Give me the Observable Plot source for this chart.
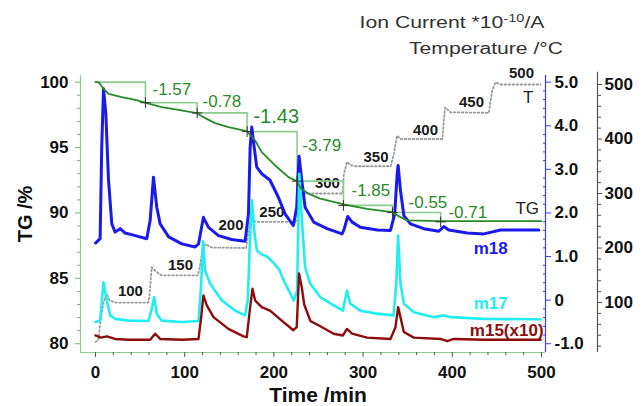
<!DOCTYPE html>
<html><head><meta charset="utf-8">
<script src="https://cdn.jsdelivr.net/npm/d3@7"></script>
<script src="https://cdn.jsdelivr.net/npm/@observablehq/plot@0.6"></script>
<style>body{margin:0;background:#fff;} #chart{width:642px;height:406px;}</style>
</head><body><div id="chart"></div>
<script>
// ---- TG curve (%)
const tgTime  = [0, 3.4, 9, 14.6, 29.5, 44.5, 57.5, 74.3, 93, 113.5, 121, 134, 149, 169.6, 179, 186.4, 201.4, 216.4, 225.6, 230, 238.7, 252, 278.3, 304.5, 332.5, 341.9, 349.3, 386.8, 500];
const tgValue = [100.0, 100.0, 99.5, 99.11, 98.85, 98.65, 98.39, 98.09, 97.89, 97.63, 97.33, 96.87, 96.56, 96.25, 95.54, 94.65, 93.63, 92.74, 92.43, 91.9, 91.47, 91.09, 90.65, 90.32, 90.06, 89.68, 89.43, 89.37, 89.37];

// ---- TG step brackets
const stepTime   = [0, 56, 114, 170, 226, 278, 333, 387];
const stepTG     = [100, 98.43, 97.65, 96.22, 92.43, 90.58, 90.03, 89.32];
const stepLabels = ["-1.57", "-0.78", "-1.43", "-3.79", "-1.85", "-0.55", "-0.71"];
const stepLabelTime = [63.9, 120, 177.1, 232, 287, 351, 395.7];
const stepLabelTG   = [99.43, 98.52, 97.37, 95.15, 91.71, 90.80, 90.03];

// ---- Ion currents (*10^-10 A)
const m18Time  = [0, 5.2, 7, 9, 11.6, 14.6, 18.3, 22, 27.7, 33.3, 44.5, 57.5, 61.3, 65, 68.7, 72.5, 82, 96.8, 111.7, 115.5, 121, 126.7, 137.9, 152.8, 167.7, 171.5, 173.4, 175.2, 177.9, 180.8, 186.4, 195.7, 205, 212.5, 221.8, 225.6, 228.2, 231.7, 235, 244.6, 259.6, 276.4, 278.3, 282.8, 287.7, 297, 315.8, 330.7, 335.5, 338.2, 339.3, 341.9, 345.7, 353.1, 368, 384.9, 390.5, 396.1, 416.7, 435.4, 454, 472.7, 497];
const m18Value = [1.31, 1.41, 3.51, 4.85, 4.28, 2.75, 1.75, 1.56, 1.64, 1.54, 1.48, 1.41, 1.83, 2.82, 2.13, 1.75, 1.45, 1.29, 1.22, 1.29, 1.90, 1.67, 1.48, 1.39, 1.35, 1.98, 3.51, 3.97, 3.51, 3.05, 2.90, 2.75, 2.36, 1.98, 1.71, 2.13, 3.30, 2.67, 2.13, 1.79, 1.64, 1.52, 1.60, 1.92, 1.79, 1.67, 1.61, 1.60, 1.98, 2.90, 3.09, 2.52, 1.94, 1.75, 1.64, 1.58, 1.69, 1.61, 1.54, 1.52, 1.61, 1.61, 1.61];

const m17Time  = [0, 5.2, 9, 12.7, 16.5, 22, 37, 59.4, 63.1, 65.8, 68.7, 74.3, 96.8, 115.5, 118.5, 120.5, 122.9, 128.5, 141.6, 156.6, 167.8, 170.7, 173.4, 175.5, 178.4, 181, 186, 192.3, 199.9, 206, 211, 222.3, 226, 228.5, 231.5, 235, 240.6, 252, 267, 277.4, 281.9, 285.6, 296.8, 315.5, 334.2, 337.2, 339.3, 341.9, 345.7, 356.9, 379.3, 390.5, 398, 435.4, 499];
const m17Value = [-0.50, -0.47, 0.41, -0.01, -0.35, -0.43, -0.47, -0.48, -0.20, 0.07, -0.31, -0.47, -0.50, -0.48, 0.38, 1.35, 0.68, 0.38, -0.01, -0.24, -0.35, -0.01, 1.5, 2.29, 1.5, 1.14, 1.05, 1.0, 0.85, 0.7, 0.45, -0.01, 0.22, 2.9, 1.8, 0.76, 0.38, 0.07, -0.12, -0.24, 0.22, -0.08, -0.24, -0.31, -0.35, 0.38, 1.48, 0.38, -0.08, -0.28, -0.39, -0.35, -0.39, -0.43, -0.44];

const m15Time  = [0, 6, 12.7, 22, 37, 61.3, 66.9, 72.5, 96.8, 115.5, 118.5, 121, 124.8, 132.3, 149, 165.9, 169.6, 173.4, 176, 179, 186.4, 195.7, 208.8, 221.8, 225.6, 228.2, 231.2, 234, 241, 252, 267, 277.4, 281.9, 287.7, 304.5, 330.7, 336.3, 339.3, 341.9, 345.7, 356.9, 386.8, 394.3, 401.7, 435.4, 499];
const m15Value = [-0.81, -0.86, -0.83, -0.89, -0.91, -0.91, -0.77, -0.89, -0.91, -0.89, -0.39, 0.11, -0.12, -0.39, -0.66, -0.83, -0.85, -0.16, 0.26, -0.01, -0.16, -0.24, -0.47, -0.69, -0.62, 0.61, 0.30, -0.10, -0.48, -0.60, -0.77, -0.81, -0.66, -0.77, -0.86, -0.89, -0.62, -0.16, -0.39, -0.73, -0.86, -0.89, -0.94, -0.89, -0.91, -0.91];

// ---- Temperature (°C)
const tempTime  = [0, 3, 6, 9, 12.5, 16, 22, 59, 60.5, 63, 67, 74, 115, 117, 120, 123, 130, 169, 171, 174, 180, 226, 227, 229, 277, 278.5, 282, 286, 292, 331, 334.5, 338, 342, 389, 390.5, 392, 398, 441, 444.7, 448.4, 454, 499];
const tempValue = [28, 30, 70, 100, 116, 104, 100, 100, 110, 165, 158, 150, 150, 165, 198, 207, 201, 200, 225, 252, 248, 248, 275, 300, 300, 336, 358, 352, 350, 350, 373, 406, 400, 400, 435, 458, 449, 448, 489, 504, 500, 500];
const tempLabels     = ["100", "150", "200", "250", "300", "350", "400", "450", "500"];
const tempLabelTime  = [39.2, 95.3, 151.9, 197.7, 260, 314.5, 370, 421.5, 477.6];
const tempLabelValue = [120, 168, 242, 266, 319, 367, 416, 468, 521];

// ---- axis ticks
const tgTicks = [80, 85, 90, 95, 100];
const timeTicks = [0, 100, 200, 300, 400, 500];
const ionTicks = [5, 4, 3, 2, 1, 0, -1];
const ionTickLabels = ["5.0", "4.0", "3.0", "2.0", "1.0", "0", "-1.0"];
const tempTicks = [100, 200, 300, 400, 500];

// ---- scale conversions onto the shared TG axis
const ionToTG = I => 80 + (I + 1) * 20 / 6;
const tempToTG = T => 83.15 + (T - 100) * 0.04168;

const X0 = -16.8, X1 = 504.5, Y0 = 79.33, Y1 = 100.51;

const tg = tgTime.map((t, i) => ({t, v: tgValue[i]}));
const steps = stepTime.map((t, i) => ({t, v: stepTG[i]}));
const stepText = stepLabels.map((s, i) => ({t: stepLabelTime[i], v: stepLabelTG[i], s, big: s === "-1.43"}));
const m18 = m18Time.map((t, i) => ({t, v: ionToTG(m18Value[i])}));
const m17 = m17Time.map((t, i) => ({t, v: ionToTG(m17Value[i])}));
const m15 = m15Time.map((t, i) => ({t, v: ionToTG(m15Value[i])}));
const temp = tempTime.map((t, i) => ({t, v: tempToTG(tempValue[i])}));
const tempText = tempLabels.map((s, i) => ({t: tempLabelTime[i], v: tempToTG(tempLabelValue[i]), s}));

const range = (a, b, s) => d3.range(a, b + 1e-9, s);
const minorTG = range(80, 100, 1).filter(d => d % 5 !== 0);
const minorTime = range(0, 500, 20).filter(d => d % 100 !== 0);
const minorIon = range(-1, 5, 0.2).filter(d => Math.abs(d - Math.round(d)) > 1e-6).map(ionToTG);
const minorTemp = range(20, 500, 20).filter(d => d % 100 !== 0).map(tempToTG);

const ionFmt = d => ionTickLabels[ionTicks.findIndex(v => Math.abs(ionToTG(v) - d) < 1e-6)];
const tempFmt = d => String(tempTicks.find(v => Math.abs(tempToTG(v) - d) < 1e-6));

const GREEN = "#2a8a2a", LGREEN = "#8fcc8f", BLUE = "#1a1aee", CYAN = "#22eef2", RED = "#8c0d0d";
const bold = {fontSize: 17, fontWeight: "bold"};

const chart = Plot.plot({
  width: 642, height: 406,
  marginLeft: 80, marginRight: 97, marginTop: 75, marginBottom: 54,
  x: {domain: [X0, X1]},
  y: {domain: [Y0, Y1]},
  style: {fontFamily: "'Liberation Sans', Arial, sans-serif", background: "#fff", overflow: "visible", color: "#111"},
  marks: [
    // frame / axis lines
    Plot.ruleX([X0], {stroke: LGREEN, strokeWidth: 1.2}),
    Plot.ruleY([Y0], {stroke: LGREEN, strokeWidth: 1.2}),
    Plot.ruleX([X1], {stroke: "#3b3bff", strokeWidth: 1.2}),
    Plot.ruleX([X1], {dx: 52, y1: Y0, y2: 100.75, stroke: "#555", strokeWidth: 1.2}),

    // temperature
    Plot.line(temp, {x: "t", y: "v", stroke: "#9a9a9a", strokeWidth: 1.8, strokeDasharray: "1.6,2.4"}),
    Plot.text(tempText, {x: "t", y: "v", text: "s", fontSize: 15, fontWeight: "bold", fill: "#1a1a1a"}),

    // TG step brackets
    Plot.line(steps, {x: "t", y: "v", curve: "step-after", stroke: LGREEN, strokeWidth: 1.6}),

    // ion currents
    Plot.line(m18, {x: "t", y: "v", stroke: BLUE, strokeWidth: 3, strokeLinejoin: "round"}),
    Plot.line(m17, {x: "t", y: "v", stroke: CYAN, strokeWidth: 2.6, strokeLinejoin: "round"}),
    Plot.line(m15, {x: "t", y: "v", stroke: RED, strokeWidth: 2.4, strokeLinejoin: "round"}),

    // TG curve
    Plot.line(tg, {x: "t", y: "v", stroke: GREEN, strokeWidth: 1.8}),
    Plot.dot(steps.slice(1), {x: "t", y: "v", symbol: "plus", r: 3.5, stroke: "#333", strokeWidth: 1}),
    Plot.text(stepText.filter(d => !d.big), {x: "t", y: "v", text: "s", textAnchor: "start", fontSize: 17, fill: GREEN}),
    Plot.text(stepText.filter(d => d.big), {x: "t", y: "v", text: "s", textAnchor: "start", fontSize: 20, fill: GREEN}),

    // series labels
    Plot.text(["m18"], {x: 443, y: ionToTG(1.19), text: d => d, ...bold, fill: BLUE}),
    Plot.text(["m17"], {x: 443, y: ionToTG(-0.08), text: d => d, ...bold, fill: CYAN}),
    Plot.text(["m15(x10)"], {x: 461, y: ionToTG(-0.69), text: d => d, ...bold, fill: RED}),
    Plot.text(["TG"], {x: 484, y: 90.34, text: d => d, fontSize: 17, fill: "#222"}),
    Plot.text(["T"], {x: 485, y: tempToTG(476), text: d => d, fontSize: 17, fill: "#222"}),

    // left TG axis
    Plot.axisY(tgTicks, {anchor: "left", tickSize: 5, tickPadding: 7, stroke: "#6fb86f", fill: "#111", ...bold, label: null}),
    Plot.axisY(minorTG, {anchor: "left", tickSize: 3, stroke: "#6fb86f", fill: "none", label: null}),
    // bottom time axis
    Plot.axisX(timeTicks, {anchor: "bottom", tickSize: 5, tickPadding: 8, stroke: "#555", fill: "#111", ...bold, label: null}),
    Plot.axisX(minorTime, {anchor: "bottom", tickSize: 3, stroke: "#555", fill: "none", label: null}),
    // right ion axis
    Plot.axisY(ionTicks.map(ionToTG), {anchor: "right", tickSize: 5, tickPadding: 4, tickFormat: ionFmt, stroke: "#3b3bff", fill: "#111", ...bold, label: null}),
    Plot.axisY(minorIon, {anchor: "right", tickSize: -3, stroke: "#3b3bff", fill: "none", label: null}),
    // right temperature axis
    Plot.axisY(tempTicks.map(tempToTG), {anchor: "right", dx: 52, tickSize: 4, tickPadding: 3, tickFormat: tempFmt, stroke: "#555", fill: "#111", ...bold, label: null}),
    Plot.axisY(minorTemp, {anchor: "right", dx: 52, tickSize: 3, stroke: "#555", fill: "none", label: null}),

    // axis titles
    Plot.text(["TG /%"], {frameAnchor: "left", dx: -55, rotate: -90, textAnchor: "middle", lineAnchor: "middle", text: d => d, fontSize: 20, fontWeight: "bold", fill: "#111"}),
    Plot.text(["Time /min"], {frameAnchor: "bottom", dx: 5, dy: 43, textAnchor: "middle", lineAnchor: "middle", text: d => d, fontSize: 21, fontWeight: "bold", fill: "#111"})
  ]
});

document.getElementById("chart").appendChild(chart);

// top-right scale titles
const svg = d3.select(chart);
const t1 = svg.append("text").attr("x", 452).attr("y", 28).attr("font-size", 16).attr("fill", "#333")
  .attr("textLength", 185).attr("lengthAdjust", "spacingAndGlyphs");
t1.append("tspan").text("Ion Current *10");
t1.append("tspan").attr("font-size", 11).attr("dy", -6).text("-10");
t1.append("tspan").attr("dy", 6).text("/A");
svg.append("text").attr("x", 486).attr("y", 54).attr("font-size", 16).attr("fill", "#333")
  .attr("textLength", 154).attr("lengthAdjust", "spacingAndGlyphs").text("Temperature /°C");
</script></body></html>
